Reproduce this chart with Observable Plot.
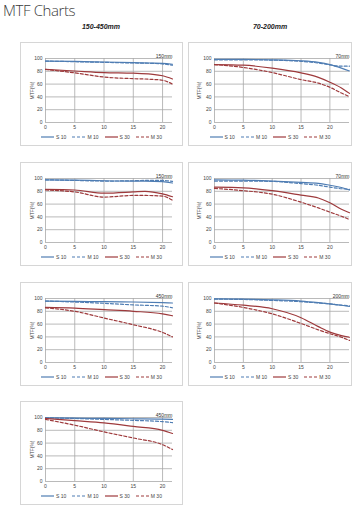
<!DOCTYPE html>
<html><head><meta charset="utf-8">
<script src="https://cdn.jsdelivr.net/npm/d3@7"></script>
<script src="https://cdn.jsdelivr.net/npm/@observablehq/plot@0.6"></script>
<style>
body{margin:0;background:#fff;width:362px;height:512px;position:relative;overflow:hidden;font-family:"Liberation Sans",Arial,sans-serif;}
#title{position:absolute;left:3px;top:0px;font:300 15px "Open Sans",sans-serif;color:#3a3a3a;letter-spacing:-0.4px;white-space:nowrap}
.hdr{position:absolute;top:23px;font:italic bold 7px "Liberation Sans",Arial,sans-serif;color:#222;transform:translateX(-50%);white-space:nowrap}
.box{position:absolute;box-sizing:border-box;border:1px solid #d6d6d6;height:104px;background:#fff}
.box svg{display:block}
.legend{display:flex;justify-content:center;align-items:center;height:10px;font:5px "Liberation Sans",Arial,sans-serif;color:#444}
.item{display:flex;align-items:center;margin:0 3px}
.item svg{margin-right:2px}
</style>
</head><body>
<div id="title">MTF Charts</div>
<script>
// ---------- data ----------
const columnTitles = ["150-450mm", "70-200mm"];
const seriesNames = ["S 10", "M 10", "S 30", "M 30"];
const seriesColors = ["#4f7db3", "#4f7db3", "#9e3a3c", "#9e3a3c"];
const seriesDash = [null, "3,2", null, "3,2"];
const xTicks = [0, 5, 10, 15, 20];
const yTicks = [0, 20, 40, 60, 80, 100];
const xMaxLeft = 21.7;
const xMaxRight = 23.4;

// left column, row 1 (150mm)
const L1_focal = "150mm";
const L1_x   = [0, 5, 10, 15, 18, 20, 21.7];
const L1_S10 = [96, 95.5, 94.5, 93.5, 93, 92.5, 91];
const L1_M10 = [96, 95, 94, 93, 92.5, 91.5, 89.5];
const L1_S30 = [83, 80.5, 78, 77, 75.5, 73, 68];
const L1_M30 = [83, 77.5, 71, 68.5, 67.5, 66, 60];

// left column, row 2 (150mm)
const L2_focal = "150mm";
const L2_x   = [0, 5, 10, 15, 17, 20, 21.7];
const L2_S10 = [98, 97.5, 96.5, 96, 96, 95, 93];
const L2_M10 = [98, 97, 96, 96.5, 97, 97, 95.5];
const L2_S30 = [83, 82, 77, 79, 80, 76, 71.5];
const L2_M30 = [82, 79, 71, 73.5, 73.5, 72.5, 66];

// left column, row 3 (450mm)
const L3_focal = "450mm";
const L3_x   = [0, 5, 10, 15, 20, 21.7];
const L3_S10 = [96, 95.5, 95, 94.5, 93.5, 93];
const L3_M10 = [96, 94.5, 92.5, 90, 88, 85.5];
const L3_S30 = [86, 85, 82.5, 80, 76, 73];
const L3_M30 = [85.5, 80, 69.5, 59, 47, 40];

// left column, row 4 (450mm)
const L4_focal = "450mm";
const L4_x   = [0, 5, 10, 15, 20, 21.7];
const L4_S10 = [99.5, 99, 98.5, 98, 97.5, 97];
const L4_M10 = [99.5, 98.5, 97, 95.5, 93.5, 92];
const L4_S30 = [98.5, 95, 91.5, 86, 80, 75];
const L4_M30 = [97, 88, 77.5, 68, 57.5, 50];

// right column, row 1 (70mm)
const R1_focal = "70mm";
const R1_x   = [0, 5, 10, 15, 18, 20, 22, 23.4];
const R1_S10 = [98.5, 98.5, 98, 96.5, 94, 90.5, 85, 80.5];
const R1_M10 = [98, 98, 97.5, 95.5, 93, 90, 88, 88];
const R1_S30 = [90.5, 89.5, 85, 77.5, 70.5, 63, 54, 45.5];
const R1_M30 = [90.5, 86, 78, 67, 61.5, 55, 46, 40.5];

// right column, row 2 (70mm)
const R2_focal = "70mm";
const R2_x   = [0, 5, 10, 15, 18, 20, 22, 23.4];
const R2_S10 = [98, 97.5, 96, 94, 92.5, 89.5, 86, 82];
const R2_M10 = [96, 96, 95.5, 92, 89.5, 86.5, 84, 83];
const R2_S30 = [86.5, 85.5, 81, 74, 69.5, 62, 52, 46.5];
const R2_M30 = [84.5, 81, 75.5, 63, 54, 47.5, 41, 36];

// right column, row 3 (200mm)
const R3_focal = "200mm";
const R3_x   = [0, 5, 10, 15, 18, 20, 22, 23.4];
const R3_S10 = [99.5, 99, 98, 96, 93.5, 91.5, 89.5, 87.5];
const R3_M10 = [99, 98.5, 97, 95, 93, 91.5, 89.5, 88.5];
const R3_S30 = [93, 89.5, 84, 70, 56, 47.5, 42, 39.5];
const R3_M30 = [93, 86, 76, 61, 51, 45, 39.5, 34.5];

// ---------- layout ----------
const rowTops = [42, 162, 282, 401];
const cols = [
  {left: 20, width: 163, mL: 24, mR: 10, xMax: xMaxLeft, labelOffset: 15},
  {left: 188, width: 164, mL: 25, mR: 2, xMax: xMaxRight, labelOffset: 17}
];
const hdrCenters = [101, 270];

const panels = [
  {col: 0, row: 0, focal: L1_focal, x: L1_x, ys: [L1_S10, L1_M10, L1_S30, L1_M30]},
  {col: 0, row: 1, focal: L2_focal, x: L2_x, ys: [L2_S10, L2_M10, L2_S30, L2_M30]},
  {col: 0, row: 2, focal: L3_focal, x: L3_x, ys: [L3_S10, L3_M10, L3_S30, L3_M30]},
  {col: 0, row: 3, focal: L4_focal, x: L4_x, ys: [L4_S10, L4_M10, L4_S30, L4_M30]},
  {col: 1, row: 0, focal: R1_focal, x: R1_x, ys: [R1_S10, R1_M10, R1_S30, R1_M30]},
  {col: 1, row: 1, focal: R2_focal, x: R2_x, ys: [R2_S10, R2_M10, R2_S30, R2_M30]},
  {col: 1, row: 2, focal: R3_focal, x: R3_x, ys: [R3_S10, R3_M10, R3_S30, R3_M30]}
];

columnTitles.forEach((t, i) => {
  const d = document.createElement("div");
  d.className = "hdr";
  d.style.left = hdrCenters[i] + "px";
  d.textContent = t;
  document.body.appendChild(d);
});

function legend() {
  const lg = document.createElement("div");
  lg.className = "legend";
  seriesNames.forEach((name, i) => {
    const it = document.createElement("div");
    it.className = "item";
    const ns = "http://www.w3.org/2000/svg";
    const s = document.createElementNS(ns, "svg");
    s.setAttribute("width", 13); s.setAttribute("height", 4);
    const ln = document.createElementNS(ns, "line");
    ln.setAttribute("x1", 0); ln.setAttribute("x2", 13);
    ln.setAttribute("y1", 2); ln.setAttribute("y2", 2);
    ln.setAttribute("stroke", seriesColors[i]);
    ln.setAttribute("stroke-width", 1.2);
    if (seriesDash[i]) ln.setAttribute("stroke-dasharray", seriesDash[i]);
    s.appendChild(ln);
    it.appendChild(s);
    const sp = document.createElement("span");
    sp.textContent = name;
    it.appendChild(sp);
    lg.appendChild(it);
  });
  return lg;
}

panels.forEach(p => {
  const c = cols[p.col];
  const box = document.createElement("div");
  box.className = "box";
  box.style.left = c.left + "px";
  box.style.top = rowTops[p.row] + "px";
  box.style.width = c.width + "px";
  const rows = [];
  p.ys.forEach((arr, si) => arr.forEach((v, k) => rows.push({series: seriesNames[si], x: p.x[k], v})));
  const lineMarks = seriesNames.map((name, si) => Plot.line(rows.filter(r => r.series === name), {
    x: "x", y: "v", stroke: seriesColors[si], strokeWidth: 1.2,
    strokeDasharray: seriesDash[si] || undefined, curve: "monotone-x"
  }));
  const chart = Plot.plot({
    width: c.width - 2,
    height: 89,
    marginTop: 15,
    marginBottom: 10,
    marginLeft: c.mL,
    marginRight: c.mR,
    style: {fontSize: "5px", fontFamily: "Liberation Sans, Arial, sans-serif", color: "#444", background: "#fff"},
    x: {domain: [0, c.xMax]},
    y: {domain: [0, 100]},
    marks: [
      Plot.gridX(xTicks, {stroke: "#a8a8a8", strokeOpacity: 1, strokeWidth: 0.8}),
      Plot.gridY(yTicks, {stroke: "#a8a8a8", strokeOpacity: 1, strokeWidth: 0.8}),
      Plot.axisX({ticks: xTicks, tickSize: 0, tickPadding: 3, label: null}),
      Plot.axisY({ticks: yTicks, tickSize: 0, tickPadding: 3, label: "MTF(%)", labelAnchor: "center", labelArrow: "none", labelOffset: c.labelOffset}),
      ...lineMarks,
      Plot.text([p.focal], {frameAnchor: "top-right", text: d => d, dy: -4, fontSize: 5, fill: "#333"})
    ]
  });
  box.appendChild(chart);
  box.appendChild(legend());
  document.body.appendChild(box);
});
</script>
</body></html>
